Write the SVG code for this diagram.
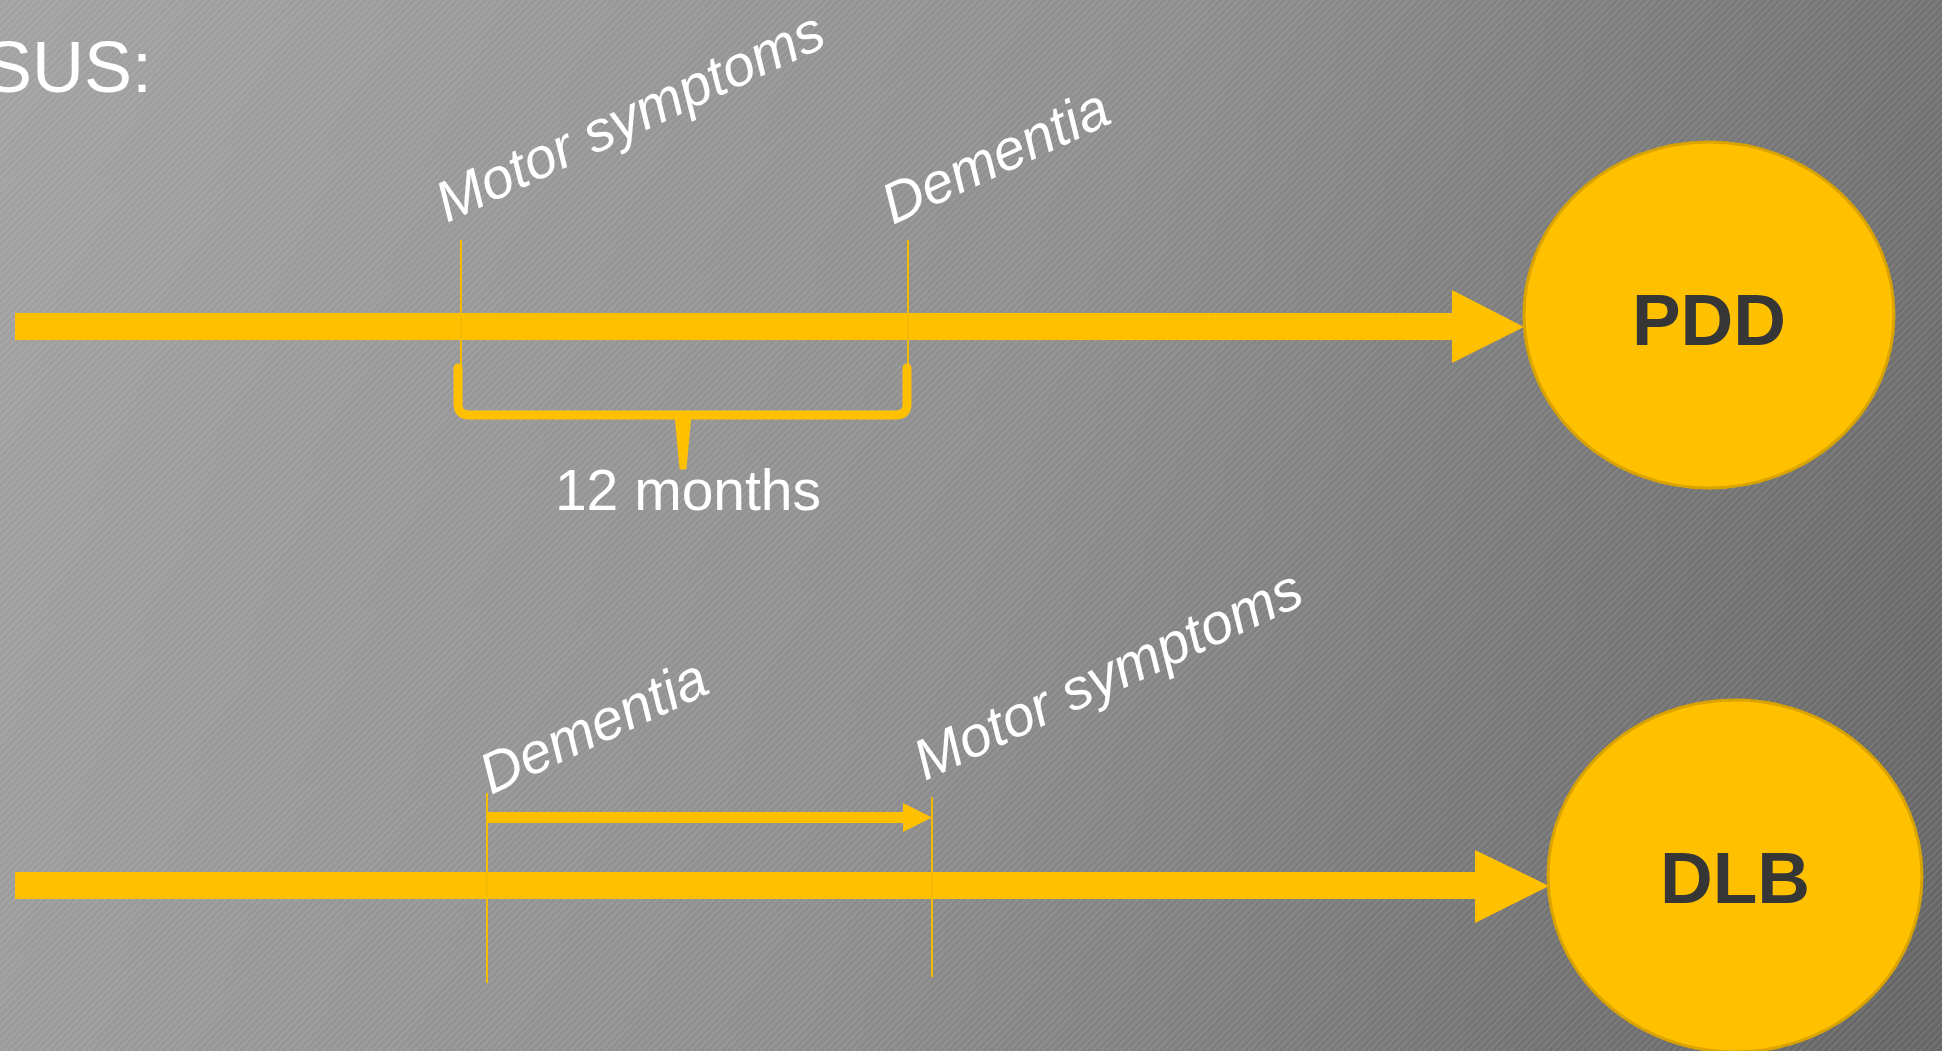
<svg xmlns="http://www.w3.org/2000/svg" width="1942" height="1051" viewBox="0 0 1942 1051">
  <defs>
    <linearGradient id="bg" gradientUnits="userSpaceOnUse" x1="0" y1="150" x2="1942" y2="900">
      <stop offset="0" stop-color="#a1a1a1"/>
      <stop offset="0.5" stop-color="#8e8e8e"/>
      <stop offset="1" stop-color="#666666"/>
    </linearGradient>
    <pattern id="hatch" patternUnits="userSpaceOnUse" width="5" height="5" patternTransform="rotate(-45)">
      <rect x="0" y="0" width="5" height="1.6" fill="#ffffff" opacity="0.10"/>
    </pattern>
    <style>
      .lbl { font-family: "Liberation Sans", Arial, sans-serif; font-style: italic; font-size: 57px; fill: #ffffff; }
      .plain { font-family: "Liberation Sans", Arial, sans-serif; fill: #ffffff; }
      .node-text { font-family: "Liberation Sans", Arial, sans-serif; font-weight: bold; font-size: 73px; fill: #363636; text-anchor: middle; }
      .node-shape { fill: #FFC000; stroke: #D9A300; stroke-width: 3; }
      .bar { fill: #FFC000; }
      .thin { stroke: #F2BA00; stroke-width: 2; fill: none; }
      .brace { stroke: #FFC000; stroke-width: 9; fill: none; stroke-linecap: round; stroke-linejoin: round; }
    </style>
  </defs>

  <rect x="0" y="0" width="1942" height="1051" fill="url(#bg)"/>
  <rect x="0" y="0" width="1942" height="1051" fill="url(#hatch)"/>

  <text class="plain" x="-16" y="92" font-size="72">SUS:</text>

  <g id="connectors">
    <!-- top timeline -->
    <rect class="bar" x="15" y="313" width="1438" height="27"/>
    <polygon class="bar" points="1452,290 1524,327 1452,363"/>
    <line class="thin" x1="461" y1="240" x2="461" y2="370"/>
    <line class="thin" x1="908" y1="240" x2="908" y2="370"/>
    <path class="brace" d="M458,368 V404 Q458,415 469,415 H896 Q907,415 907,404 V368"/>
    <path d="M676,415 L690,415 L685,468 L681,468 Z" fill="#FFC000" stroke="#FFC000" stroke-width="3" stroke-linejoin="round"/>
    <!-- bottom timeline -->
    <rect class="bar" x="15" y="872" width="1461" height="27"/>
    <polygon class="bar" points="1475,850 1549,886 1475,923"/>
    <line class="thin" x1="487" y1="793" x2="487" y2="983"/>
    <line class="thin" x1="932" y1="797" x2="932" y2="977"/>
    <rect class="bar" x="487" y="812" width="417" height="11"/>
    <polygon class="bar" points="903,803 932,817.5 903,832"/>
  </g>

  <g id="node-pdd">
    <ellipse class="node-shape" cx="1709" cy="315" rx="185" ry="173"/>
    <text class="node-text" x="1709" y="345">PDD</text>
  </g>

  <g id="node-dlb">
    <ellipse class="node-shape" cx="1735" cy="876" rx="187" ry="176"/>
    <text class="node-text" x="1735" y="903">DLB</text>
  </g>

  <g id="labels">
    <text class="lbl" transform="translate(447,223) rotate(-25)">Motor symptoms</text>
    <text class="lbl" transform="translate(893,225) rotate(-25)">Dementia</text>
    <text class="plain" x="688" y="510" font-size="57" text-anchor="middle">12 months</text>
    <text class="lbl" transform="translate(491,795) rotate(-25)">Dementia</text>
    <text class="lbl" transform="translate(925,781) rotate(-25)">Motor symptoms</text>
  </g>
</svg>
